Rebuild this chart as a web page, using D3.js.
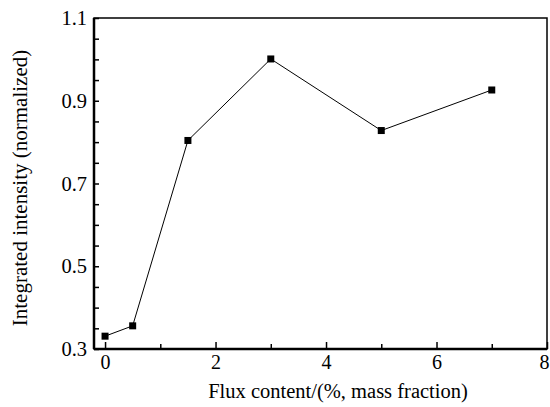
<!DOCTYPE html>
<html><head><meta charset="utf-8">
<script src="https://cdn.jsdelivr.net/npm/d3@7"></script>
<style>html,body{margin:0;padding:0;background:#fff;}svg{display:block;}</style>
</head><body>
<svg id="chart" width="550" height="407"></svg>
<script>
const fluxContent = [0, 0.5, 1.5, 3, 5, 7];
const intensity = [0.331, 0.356, 0.804, 1.001, 0.828, 0.926];
const xTickLabels = [0, 2, 4, 6, 8];
const yTickLabels = [0.3, 0.5, 0.7, 0.9, 1.1];
const xLabel = "Flux content/(%, mass fraction)";
const yLabel = "Integrated intensity (normalized)";

const svg = d3.select("#chart");
const L = 94, R = 547, T = 18, B = 349;
const x = d3.scaleLinear().domain([-0.2, 8]).range([L, R]);
const y = d3.scaleLinear().domain([0.3, 1.1]).range([B, T]);
const font = '"Liberation Serif"';

// frame
svg.append("rect").attr("x", L).attr("y", T).attr("width", R - L).attr("height", B - T)
  .attr("fill", "none").attr("stroke", "#000").attr("stroke-width", 1.5);
svg.append("line").attr("x1", L).attr("x2", L).attr("y1", T).attr("y2", B).attr("stroke", "#000").attr("stroke-width", 2.5);
svg.append("line").attr("x1", L).attr("x2", R).attr("y1", B).attr("y2", B).attr("stroke", "#000").attr("stroke-width", 2.5);

// x axis ticks (inward)
const xAxis = d3.axisBottom(x).tickValues(d3.range(0, 9, 1)).tickSizeInner(-5).tickSizeOuter(0)
  .tickFormat(d => xTickLabels.includes(d) ? d : "");
const gx = svg.append("g").attr("transform", `translate(0,${B})`).call(xAxis);
gx.attr("font-family", null).attr("font-size", null);
gx.select(".domain").remove();
gx.selectAll(".tick line").attr("stroke-width", 1.5);
gx.selectAll(".tick").filter(d => xTickLabels.includes(d)).select("line").attr("y2", -7);
gx.selectAll("text").style("font-family", font).style("font-size", "20px").attr("fill", "#000").attr("y", 6);
gx.selectAll(".tick").filter(d => d === 8).select("text").attr("dx", -3);

// y axis ticks (inward)
const yTicks = d3.range(0, 17).map(i => +(0.3 + i * 0.05).toFixed(2));
const yAxis = d3.axisLeft(y).tickValues(yTicks).tickSizeInner(-5).tickSizeOuter(0)
  .tickFormat(d => yTickLabels.some(v => Math.abs(v - d) < 1e-6) ? d3.format(".1f")(d) : "");
const gy = svg.append("g").attr("transform", `translate(${L},0)`).call(yAxis);
gy.attr("font-family", null).attr("font-size", null);
gy.select(".domain").remove();
gy.selectAll(".tick line").attr("stroke-width", 1.5);
gy.selectAll("text").style("font-family", font).style("font-size", "20.5px").attr("fill", "#000").attr("x", -7);

// line
const line = d3.line().x((d, i) => x(fluxContent[i])).y(d => y(d));
svg.append("path").datum(intensity).attr("d", line).attr("fill", "none").attr("stroke", "#000").attr("stroke-width", 1);

// markers
svg.selectAll("rect.pt").data(intensity).enter().append("rect").attr("class", "pt")
  .attr("x", (d, i) => x(fluxContent[i]) - 3.5).attr("y", d => y(d) - 3.5)
  .attr("width", 7).attr("height", 7).attr("fill", "#000");

// labels
svg.append("text").attr("x", 338).attr("y", 398).attr("text-anchor", "middle")
  .style("font-family", font).style("font-size", "20.5px").attr("fill", "#000").text(xLabel);
svg.append("text").attr("transform", `translate(27,188) rotate(-90)`).attr("text-anchor", "middle")
  .style("font-family", font).style("font-size", "21px").attr("fill", "#000").text(yLabel);
</script>
</body></html>
